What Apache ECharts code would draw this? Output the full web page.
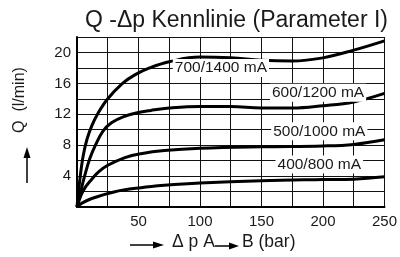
<!DOCTYPE html>
<html lang="de">
<head>
    <meta charset="UTF-8">
    <title>Q-Δp Kennlinie</title>
    <script src="https://cdn.jsdelivr.net/npm/echarts@6.0.0/dist/echarts.min.js"></script>
    <style>
        html, body { margin: 0; padding: 0; background: #fff; }
    </style>
</head>
<body>
    <div id="main" style="width:400px;height:257px;"></div>

    <script>
        // Werte (Δp in bar, Q in l/min)
        const labels = ['700/1400 mA', '600/1200 mA', '500/1000 mA', '400/800 mA'];

        const dp700 = [0, 2.5, 5, 8, 12, 17, 25, 37, 47, 59, 75, 100, 125, 150, 175, 200, 225, 250];
        const q700  = [0, 3.8, 6.6, 8.7, 10.5, 12.1, 14, 16, 17.1, 18, 18.8, 19.4, 19.3, 19.0, 18.9, 19.3, 20.3, 21.5];

        const dp600 = [0, 3, 6.5, 10.5, 15, 21, 28, 38, 49, 60, 75, 100, 125, 150, 175, 200, 225, 250];
        const q600  = [0, 2, 4.2, 6.3, 8, 9.8, 10.9, 11.7, 12.2, 12.5, 12.8, 13.0, 13.0, 12.8, 12.8, 13.1, 13.6, 14.7];

        const dp500 = [0, 5, 12, 18, 25, 39, 52, 71, 100, 150, 200, 225, 250];
        const q500  = [0, 2.1, 3.6, 4.6, 5.4, 6.4, 6.9, 7.3, 7.6, 7.8, 7.9, 8.1, 8.7];

        const dp400 = [0, 4, 12, 30, 52, 71, 100, 150, 200, 225, 250];
        const q400  = [0, 0.5, 1.1, 1.95, 2.5, 2.8, 3.1, 3.4, 3.55, 3.6, 3.9];

        const xTicks = [50, 100, 150, 200, 250];
        const yTicks = [4, 8, 12, 16, 20];

        // wo die Beschriftung der Kennlinie sitzt (Δp, Q)
        const labelAt = [[117, 18], [196, 14.8], [197, 9.8], [197, 5.5]];

        const pairs = (xs, ys) => xs.map((x, i) => [x, ys[i]]);
        const curves = [pairs(dp700, q700), pairs(dp600, q600), pairs(dp500, q500), pairs(dp400, q400)];

        const font = 'Liberation Sans, Arial, sans-serif';
        const ink = '#1a1a1a';

        const series = curves.map((data, i) => ({
            name: labels[i],
            type: 'line',
            data: data,
            smooth: 0.4,
            showSymbol: false,
            lineStyle: { color: '#000', width: 3 },
            z: 3,
            markPoint: {
                symbol: 'rect',
                symbolSize: 0,
                silent: true,
                label: {
                    show: true,
                    position: 'inside',
                    formatter: labels[i],
                    fontFamily: font,
                    fontSize: 15.5,
                    color: ink,
                    backgroundColor: '#fff',
                    padding: [1, 2]
                },
                data: [{ coord: labelAt[i] }]
            }
        }));

        const option = {
            animation: false,
            backgroundColor: '#fff',
            title: {
                text: 'Q -Δp Kennlinie (Parameter I)',
                left: 80,
                top: 4,
                textStyle: { fontFamily: font, fontSize: 23, fontWeight: 'normal', color: ink }
            },
            grid: { left: 77, right: 13, top: 37, bottom: 50 },
            xAxis: {
                type: 'value',
                min: 0, max: 250, interval: 25,
                axisLine: { lineStyle: { color: '#000', width: 2 } },
                axisTick: { show: false },
                splitLine: { lineStyle: { color: '#111', width: 1 } },
                axisLabel: {
                    margin: 7,
                    fontFamily: font, fontSize: 15, color: ink,
                    formatter: v => xTicks.includes(v) ? String(v) : ''
                }
            },
            yAxis: {
                type: 'value',
                min: 0, max: 22, interval: 2,
                axisLine: { show: true, lineStyle: { color: '#000', width: 2 } },
                axisTick: { show: false },
                splitLine: { lineStyle: { color: '#111', width: 1 } },
                axisLabel: {
                    margin: 6,
                    fontFamily: font, fontSize: 15, color: ink,
                    formatter: v => yTicks.includes(v) ? String(v) : ''
                }
            },
            graphic: [
                // Achsentitel y mit Pfeil
                {
                    type: 'text', x: 20, y: 100, rotation: Math.PI / 2,
                    style: { text: 'Q  (l/min)', font: '16px ' + font, fill: ink, align: 'center', verticalAlign: 'middle' }
                },
                { type: 'line', shape: { x1: 27, y1: 183, x2: 27, y2: 156 }, style: { stroke: '#000', lineWidth: 1.5 } },
                { type: 'polygon', shape: { points: [[27, 147], [23.5, 158], [30.5, 158]] }, style: { fill: '#000' } },
                // Achsentitel x mit Pfeilen
                { type: 'line', shape: { x1: 130, y1: 245, x2: 155, y2: 245 }, style: { stroke: '#000', lineWidth: 1.5 } },
                { type: 'polygon', shape: { points: [[164, 245], [153, 241.5], [153, 248.5]] }, style: { fill: '#000' } },
                {
                    type: 'text', x: 172, y: 242,
                    style: { text: 'Δ p A', font: '17.5px ' + font, fill: ink, verticalAlign: 'middle' }
                },
                { type: 'line', shape: { x1: 215, y1: 246, x2: 231, y2: 246 }, style: { stroke: '#000', lineWidth: 1.5 } },
                { type: 'polygon', shape: { points: [[239, 246], [229, 242.5], [229, 249.5]] }, style: { fill: '#000' } },
                {
                    type: 'text', x: 242, y: 242,
                    style: { text: 'B (bar)', font: '17.5px ' + font, fill: ink, verticalAlign: 'middle' }
                }
            ],
            series: series
        };

        var myChart = echarts.init(document.getElementById('main'));
        myChart.setOption(option);
    </script>
</body>
</html>
